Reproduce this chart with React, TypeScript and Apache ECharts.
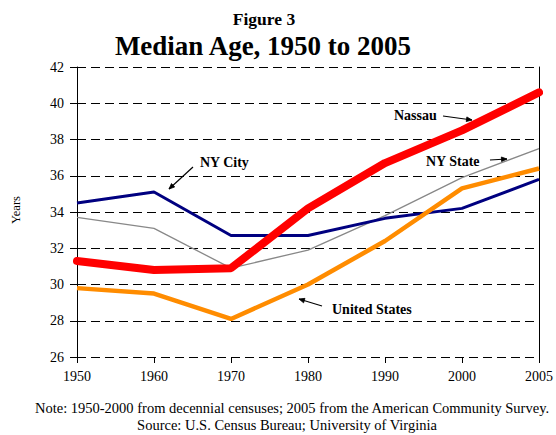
import React, { useEffect, useRef } from "react";
import * as echarts from "echarts";

const years = ["1950", "1960", "1970", "1980", "1990", "2000", "2005"];
const nassau = [31.3, 30.8, 30.9, 34.2, 36.7, 38.5, 40.6];
const nyCity = [34.5, 35.1, 32.7, 32.7, 33.65, 34.2, 35.8];
const nyState = [33.7, 33.1, 30.9, 31.9, 33.8, 35.9, 37.5];
const unitedStates = [29.8, 29.5, 28.1, 30.0, 32.4, 35.3, 36.4];

const FONT = "'Liberation Serif', 'Times New Roman', serif";

function arrow(x1: number, y1: number, x2: number, y2: number) {
  const ang = Math.atan2(y2 - y1, x2 - x1);
  const L = 6;
  const a1 = ang + Math.PI - 0.4;
  const a2 = ang + Math.PI + 0.4;
  return {
    type: "group",
    children: [
      { type: "line", shape: { x1, y1, x2, y2 }, style: { stroke: "#000", lineWidth: 1.2 } },
      {
        type: "polygon",
        shape: {
          points: [
            [x2 + L * Math.cos(a1), y2 + L * Math.sin(a1)],
            [x2, y2],
            [x2 + L * Math.cos(a2), y2 + L * Math.sin(a2)],
          ],
        },
        style: { stroke: "#000", lineWidth: 0.8, fill: "#000" },
      },
    ],
  };
}

function label(text: string, x: number, y: number) {
  return {
    type: "text",
    x,
    y,
    style: { text, font: `bold 14px ${FONT}`, fill: "#000", textAlign: "left", textVerticalAlign: "middle" },
  };
}

export default function App() {
  const ref = useRef<HTMLDivElement>(null);
  useEffect(() => {
    const chart = echarts.init(ref.current!, null, { renderer: "svg" });
    const dash = { color: "#000", width: 1, type: [9, 5] as any };
    chart.setOption({
      animation: false,
      backgroundColor: "#fff",
      grid: { left: 77, right: 12, top: 67, bottom: 78, containLabel: false },
      xAxis: {
        type: "category",
        data: years,
        boundaryGap: false,
        axisLine: { show: false },
        axisTick: { show: true, length: 6, lineStyle: { color: "#000" } },
        axisLabel: { color: "#000", fontFamily: FONT, fontSize: 14, margin: 12 },
        splitLine: { show: false },
      },
      yAxis: [
        {
          type: "value",
          min: 26,
          max: 42,
          interval: 2,
          axisLine: { show: true, lineStyle: { color: "#000", width: 1 } },
          axisTick: { show: true, length: 7, lineStyle: { color: "#000" } },
          axisLabel: { color: "#000", fontFamily: FONT, fontSize: 14, margin: 13 },
          splitLine: { show: true, lineStyle: dash },
        },
        {
          type: "value",
          position: "right",
          min: 26,
          max: 42,
          interval: 2,
          axisLine: { show: true, lineStyle: { color: "#000", width: 1 } },
          axisTick: { show: false },
          axisLabel: { show: false },
          splitLine: { show: false },
        },
      ],
      series: [
        {
          name: "NY State",
          type: "line",
          data: nyState,
          symbol: "none",
          lineStyle: { color: "#888888", width: 1.3 },
        },
        {
          name: "NY City",
          type: "line",
          data: nyCity,
          symbol: "none",
          lineStyle: { color: "#000080", width: 3 },
        },
        {
          name: "United States",
          type: "line",
          data: unitedStates,
          symbol: "none",
          lineStyle: { color: "#FF8C00", width: 4.5 },
        },
        {
          name: "Nassau",
          type: "line",
          data: nassau,
          symbol: "none",
          lineStyle: { color: "#FF0000", width: 8, cap: "round", join: "round" },
        },
      ],
      graphic: [
        {
          type: "text",
          x: 264,
          y: 19,
          style: { text: "Figure 3", font: `bold 17.5px ${FONT}`, fill: "#000", textAlign: "center", textVerticalAlign: "middle" },
        },
        {
          type: "text",
          x: 263,
          y: 46,
          style: { text: "Median Age, 1950 to 2005", font: `bold 27px ${FONT}`, fill: "#000", textAlign: "center", textVerticalAlign: "middle" },
        },
        {
          type: "text",
          x: 16,
          y: 210,
          rotation: Math.PI / 2,
          style: { text: "Years", font: `12.5px ${FONT}`, fill: "#000", textAlign: "center", textVerticalAlign: "middle" },
        },
        label("NY City", 200, 162),
        arrow(193, 167, 169, 189),
        label("Nassau", 394, 115),
        arrow(443, 116, 472, 120),
        label("NY State", 426, 161),
        arrow(490, 160, 507, 159),
        label("United States", 332, 309),
        arrow(322, 306, 299, 299),
        {
          type: "text",
          x: 292,
          y: 408,
          style: {
            text: "Note: 1950-2000 from decennial censuses; 2005 from the American Community Survey.",
            font: `14.5px ${FONT}`,
            fill: "#000",
            textAlign: "center",
            textVerticalAlign: "middle",
          },
        },
        {
          type: "text",
          x: 287,
          y: 425,
          style: {
            text: "Source: U.S. Census Bureau; University of Virginia",
            font: `14.5px ${FONT}`,
            fill: "#000",
            textAlign: "center",
            textVerticalAlign: "middle",
          },
        },
      ],
    });
    return () => chart.dispose();
  }, []);
  return <div ref={ref} style={{ width: 556, height: 435, position: "absolute", left: 0, top: 0 }} />;
}
